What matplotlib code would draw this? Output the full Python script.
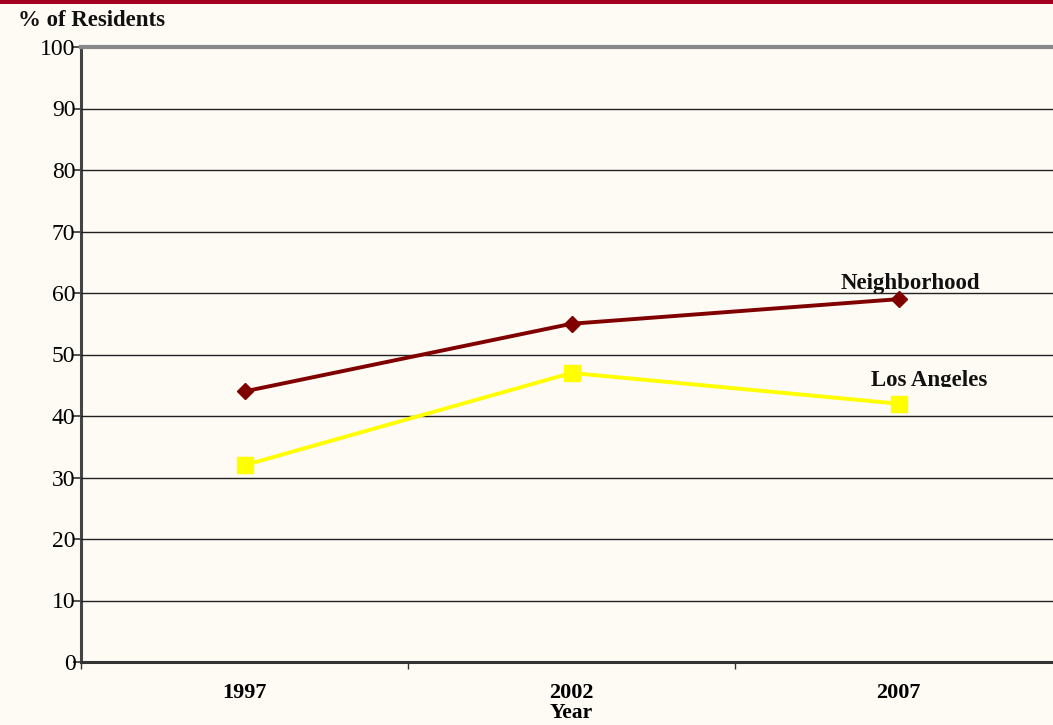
import matplotlib
matplotlib.use("Agg")
import matplotlib.pyplot as plt
from matplotlib.patches import Rectangle

years = ["1997", "2002", "2007"]
neighborhood = [44, 55, 59]
los_angeles = [32, 47, 42]
yticks = [0, 10, 20, 30, 40, 50, 60, 70, 80, 90, 100]

bg = "#FEFAF4"
plt.rcParams['font.family'] = ['Liberation Serif', 'DejaVu Serif']

fig = plt.figure(figsize=(10.53, 7.25), dpi=100, facecolor=bg)
ax = fig.add_axes([81/1053, 63/725, 981/1053, 615/725])
ax.set_facecolor(bg)

x = list(range(len(years)))
ax.set_xlim(-0.5, 2.5)
ax.set_ylim(0, 100)

for v in yticks[1:-1]:
    ax.axhline(v, color="#222222", lw=1.0, zorder=3)

ax.plot(x, neighborhood, color="#800000", lw=2.8, marker="D", ms=8, zorder=4, clip_on=False)
ax.plot(x, los_angeles, color="#FFFF00", lw=2.8, marker="s", ms=11, zorder=4, clip_on=False)

ax.text(2.035, 60.6, "Neighborhood", ha="center", va="baseline", fontsize=16.5,
        fontweight="bold", color="#111111", zorder=2)
ax.text(2.095, 44.8, "Los Angeles", ha="center", va="baseline", fontsize=16.5,
        fontweight="bold", color="#111111", zorder=2)
ax.add_patch(Rectangle((1.7, 41.1), 0.8, 3.6, facecolor=bg, edgecolor="none", zorder=2.5))

ax.set_yticks(yticks)
ax.set_yticklabels([str(v) for v in yticks], fontsize=17, va="center_baseline")
ax.tick_params(axis="y", direction="out", length=6, width=1.2, color="#333333", pad=-2)
ax.set_xticks(x)
ax.set_xticklabels(years, fontsize=16, fontweight="bold")
ax.tick_params(axis="x", which="major", length=0, pad=15)
ax.set_xticks([-0.5, 0.5, 1.5], minor=True)
ax.tick_params(axis="x", which="minor", direction="out", length=5, width=1.0, color="#333333")

ax.spines["left"].set_color("#444444")
ax.spines["left"].set_linewidth(2.2)
ax.spines["bottom"].set_color("#333333")
ax.spines["bottom"].set_linewidth(2.2)
ax.spines["top"].set_color("#888888")
ax.spines["top"].set_linewidth(3)
ax.spines["right"].set_visible(False)

ax.set_xlabel("Year", fontsize=15.5, fontweight="bold", labelpad=0)
fig.text(18/1053, 1 - 20/725, "% of Residents", fontsize=16.5, fontweight="bold",
         ha="left", va="center", color="#111111")

fig.patches.append(Rectangle((0, 1 - 4/725), 1, 4/725, transform=fig.transFigure,
                             facecolor="#A50021", edgecolor="none"))

fig.savefig("out.png", dpi=100, facecolor=bg)
